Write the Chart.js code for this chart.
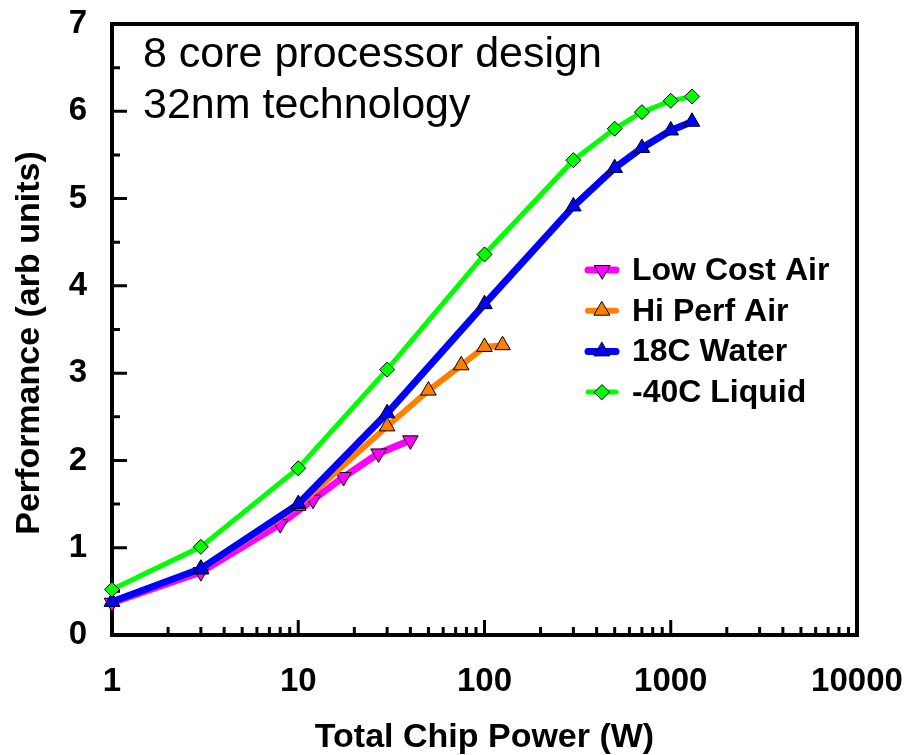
<!DOCTYPE html>
<html>
<head>
  <meta charset="UTF-8">
  <title>Performance vs Total Chip Power</title>
  <script src="https://cdn.jsdelivr.net/npm/chart.js"></script>
  <style>
    html, body { margin: 0; padding: 0; background: #fff; }
    canvas { display: block; }
  </style>
</head>
<body>
  <canvas id="power-chart" width="910" height="755"></canvas>

  <script>
    // Performance (arb units) against total chip power (W), per cooling option
    const seriesNames = ["Low Cost Air", "Hi Perf Air", "18C Water", "-40C Liquid"];

    const lowCostPower = [1, 3, 8, 12, 17.5, 27, 40];
    const lowCostPerf = [0.37, 0.72, 1.27, 1.55, 1.81, 2.08, 2.23];

    const hiPerfPower = [1, 3, 10, 30, 50, 75, 100, 125];
    const hiPerfPerf = [0.38, 0.75, 1.48, 2.39, 2.80, 3.09, 3.30, 3.32];

    const waterPower = [1, 3, 10, 30, 100, 300, 500, 700, 1000, 1300];
    const waterPerf = [0.38, 0.76, 1.50, 2.54, 3.79, 4.91, 5.35, 5.58, 5.78, 5.88];

    const liquidPower = [1, 3, 10, 30, 100, 300, 500, 700, 1000, 1300];
    const liquidPerf = [0.52, 1.01, 1.91, 3.04, 4.36, 5.44, 5.80, 5.99, 6.12, 6.17];

    const xTickValues = [1, 10, 100, 1000, 10000];
    const yTickValues = [0, 1, 2, 3, 4, 5, 6, 7];
    const noteLines = ["8 core processor design", "32nm technology"];
    const yTitle = "Performance (arb units)";

    const FONT = "'Liberation Sans', Arial, Helvetica, sans-serif";

    function toPoints(xs, ys) {
      return xs.map((x, i) => ({ x: x, y: ys[i] }));
    }

    function makeSeries(label, xs, ys, color, width, style, rot, radius, order) {
      return {
        label: label,
        data: toPoints(xs, ys),
        borderColor: color,
        backgroundColor: color,
        borderWidth: width,
        pointStyle: style,
        rotation: rot,
        pointRadius: radius,
        pointHoverRadius: radius,
        pointBackgroundColor: color,
        pointBorderColor: "#000",
        pointBorderWidth: 1,
        tension: 0,
        clip: false,
        order: order
      };
    }

    const datasets = [
      makeSeries(seriesNames[0], lowCostPower, lowCostPerf, "#ff00ff", 7, "triangle", 180, 9, 4),
      makeSeries(seriesNames[1], hiPerfPower, hiPerfPerf, "#ff8000", 6, "triangle", 0, 9, 3),
      makeSeries(seriesNames[2], waterPower, waterPerf, "#0000ff", 7, "triangle", 0, 9, 2),
      makeSeries(seriesNames[3], liquidPower, liquidPerf, "#00ff00", 5, "rectRot", 0, 7.5, 1)
    ];

    // frame with inward ticks, drawn under the data
    const framePlugin = {
      id: "frame",
      beforeDatasetsDraw(chart) {
        const ctx = chart.ctx;
        const a = chart.chartArea;
        const xs = chart.scales.x;
        const ys = chart.scales.y;
        ctx.save();
        ctx.strokeStyle = "#000";
        ctx.lineWidth = 3;
        ctx.lineCap = "butt";
        ctx.beginPath();
        // y ticks: integers long, halves short
        for (let v = 0; v <= 7; v += 0.5) {
          const py = ys.getPixelForValue(v);
          const len = Number.isInteger(v) ? 15 : 8;
          ctx.moveTo(a.left, py);
          ctx.lineTo(a.left + len, py);
        }
        // x ticks: decades long, 2..9 short
        for (let d = 1; d < 10000; d *= 10) {
          for (let m = 1; m <= 10; m++) {
            const px = xs.getPixelForValue(d * m);
            const len = (m === 1 || m === 10) ? 15 : 8;
            ctx.moveTo(px, a.bottom);
            ctx.lineTo(px, a.bottom - len);
          }
        }
        ctx.stroke();
        ctx.lineWidth = 4;
        ctx.strokeRect(a.left, a.top, a.right - a.left, a.bottom - a.top);
        ctx.restore();
      }
    };

    function drawMarker(ctx, ds, x, y) {
      ctx.fillStyle = ds.pointBackgroundColor;
      ctx.strokeStyle = ds.pointBorderColor;
      ctx.lineWidth = ds.pointBorderWidth;
      Chart.helpers.drawPoint(ctx, {
        pointStyle: ds.pointStyle,
        rotation: ds.rotation,
        radius: ds.pointRadius,
        borderWidth: ds.pointBorderWidth
      }, x, y);
    }

    // legend inside the plot, the two-line note and the y title
    const notesPlugin = {
      id: "notes",
      afterDraw(chart) {
        const ctx = chart.ctx;
        ctx.save();

        const lx = 588, lw = 28, ly = 270, step = 40.7;
        chart.data.datasets.forEach((ds, i) => {
          const y = ly + i * step;
          ctx.strokeStyle = ds.borderColor;
          ctx.lineWidth = ds.borderWidth;
          ctx.lineCap = "round";
          ctx.beginPath();
          ctx.moveTo(lx, y);
          ctx.lineTo(lx + lw, y);
          ctx.stroke();
          drawMarker(ctx, ds, lx + lw / 2, y);
          ctx.fillStyle = "#000";
          ctx.font = "bold 32px " + FONT;
          ctx.textAlign = "left";
          ctx.textBaseline = "middle";
          ctx.fillText(ds.label, 632, y + 1);
        });

        ctx.fillStyle = "#000";
        ctx.font = "43px " + FONT;
        ctx.textAlign = "left";
        ctx.textBaseline = "alphabetic";
        ctx.fillText(noteLines[0], 143, 67);
        ctx.fillText(noteLines[1], 143, 118);

        ctx.translate(30, 343);
        ctx.rotate(-Math.PI / 2);
        ctx.font = "bold 34px " + FONT;
        ctx.textAlign = "center";
        ctx.textBaseline = "middle";
        ctx.fillText(yTitle, 0, 0);
        ctx.restore();
      }
    };

    // let the layout padding alone decide the plot box
    function noOverflow(scale) {
      scale.paddingTop = 0;
      scale.paddingBottom = 0;
      scale.paddingLeft = 0;
      scale.paddingRight = 0;
    }

    const ctx = document.getElementById("power-chart").getContext("2d");

    new Chart(ctx, {
      type: "line",
      data: { datasets: datasets },
      options: {
        responsive: false,
        animation: false,
        events: [],
        layout: { padding: { left: 0, right: 53, top: 24, bottom: 0 } },
        plugins: {
          legend: { display: false },
          tooltip: { enabled: false }
        },
        scales: {
          x: {
            type: "logarithmic",
            min: 1,
            max: 10000,
            grid: { display: false, drawTicks: false },
            border: { display: false },
            afterBuildTicks: (scale) => {
              scale.ticks = xTickValues.map(v => ({ value: v }));
            },
            afterFit: (scale) => { scale.height = 120; noOverflow(scale); },
            ticks: {
              color: "#000",
              padding: 27,
              maxRotation: 0,
              autoSkip: false,
              font: { family: FONT, size: 33, weight: "bold" },
              callback: (v) => String(v)
            },
            title: {
              display: true,
              text: "Total Chip Power (W)",
              color: "#000",
              padding: { top: 0, bottom: 0 },
              font: { family: FONT, size: 34, weight: "bold", lineHeight: 1 }
            }
          },
          y: {
            type: "linear",
            min: 0,
            max: 7,
            grid: { display: false, drawTicks: false },
            border: { display: false },
            afterBuildTicks: (scale) => {
              scale.ticks = yTickValues.map(v => ({ value: v }));
            },
            afterFit: (scale) => { scale.width = 112; noOverflow(scale); },
            ticks: {
              color: "#000",
              padding: 25,
              font: { family: FONT, size: 33, weight: "bold" }
            },
            title: { display: false }
          }
        }
      },
      plugins: [framePlugin, notesPlugin]
    });
  </script>
</body>
</html>
